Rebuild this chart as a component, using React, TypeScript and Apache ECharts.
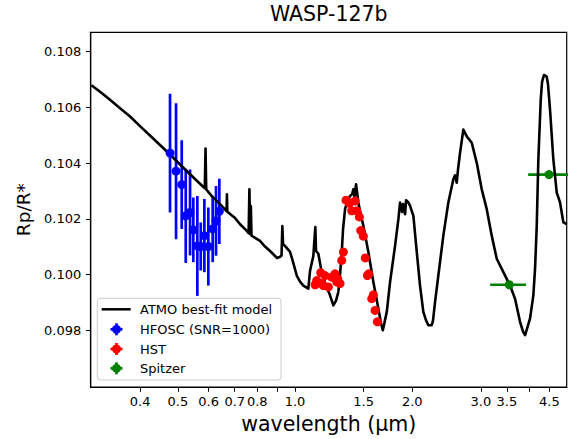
import React, { useEffect, useRef } from 'react';
import * as echarts from 'echarts';

// ATMO best-fit model (wavelength in micron, Rp/R*)
const modelWavelength = [
  0.300, 0.3157, 0.3348, 0.3553, 0.3770, 0.4023, 0.4242, 0.4500, 0.4775, 0.5066,
  0.5375, 0.5702, 0.5865, 0.5890, 0.5915, 0.6120, 0.6420, 0.6669, 0.6685, 0.6700,
  0.7015, 0.7226, 0.7485, 0.7600, 0.7635, 0.7670, 0.7700, 0.7730, 0.7896, 0.8129,
  0.8375, 0.8626, 0.8885, 0.8990, 0.9152, 0.9233, 0.9277, 0.9315, 0.9482, 0.9709,
  0.9882, 1.0101, 1.0300, 1.0503, 1.0818, 1.0928, 1.1142, 1.1275, 1.1323, 1.1478,
  1.1662, 1.1942, 1.2152, 1.2300, 1.2542, 1.2744, 1.2918, 1.3050, 1.3182, 1.3284,
  1.3442, 1.3602, 1.3845, 1.4010, 1.4118, 1.4219, 1.4345, 1.4542, 1.4689, 1.4979,
  1.5428, 1.5891, 1.6369, 1.6633, 1.6801, 1.6931, 1.7203, 1.7542, 1.8069, 1.8425,
  1.8611, 1.8832, 1.8944, 1.9169, 1.9283, 1.9547, 1.9744, 2.0134, 2.0543, 2.0941,
  2.1354, 2.1698, 2.1995, 2.2442, 2.2615, 2.2884, 2.3335, 2.4035, 2.4757, 2.5500,
  2.5758, 2.6018, 2.6219, 2.6531, 2.7054, 2.7603, 2.8431, 2.9285, 3.0163, 3.1068,
  3.2000, 3.2961, 3.4274, 3.5659, 3.6728, 3.7831, 3.8509, 3.8967, 3.9430, 4.0136,
  4.0927, 4.1340, 4.1758, 4.2155, 4.2758, 4.3088, 4.3600, 4.4302, 4.4644, 4.5174,
  4.6065, 4.6999, 4.7925, 4.8870, 4.9862,
];
const modelRadius = [
  0.10679, 0.10656, 0.10627, 0.10597, 0.10567, 0.10529, 0.10499, 0.10465, 0.10431, 0.10395,
  0.10360, 0.10326, 0.10310, 0.10452, 0.10306, 0.10281, 0.10253, 0.10228, 0.10288, 0.10226,
  0.10203, 0.10181, 0.10160, 0.10149, 0.10306, 0.10146, 0.10246, 0.10140, 0.10132, 0.10121,
  0.10101, 0.10085, 0.10067, 0.10060, 0.10064, 0.10069, 0.10174, 0.10110, 0.10099, 0.10082,
  0.10046, 0.09997, 0.09975, 0.09961, 0.09950, 0.10014, 0.10067, 0.10171, 0.10085, 0.10075,
  0.10021, 0.09971, 0.09943, 0.09926, 0.09890, 0.09907, 0.09938, 0.10000, 0.10081, 0.10164,
  0.10235, 0.10260, 0.10282, 0.10288, 0.10306, 0.10278, 0.10324, 0.10259, 0.10228, 0.10175,
  0.10081, 0.09974, 0.09878, 0.09825, 0.09801, 0.09821, 0.09867, 0.09974, 0.10104, 0.10199,
  0.10259, 0.10225, 0.10253, 0.10217, 0.10267, 0.10259, 0.10247, 0.10211, 0.10081, 0.09961,
  0.09867, 0.09836, 0.09819, 0.09819, 0.09836, 0.09902, 0.09997, 0.10140, 0.10259, 0.10342,
  0.10356, 0.10330, 0.10378, 0.10437, 0.10520, 0.10496, 0.10473, 0.10401, 0.10306, 0.10235,
  0.10140, 0.10057, 0.10009, 0.09961, 0.09914, 0.09831, 0.09796, 0.09783, 0.09807, 0.09843,
  0.09926, 0.10021, 0.10175, 0.10413, 0.10627, 0.10691, 0.10716, 0.10710, 0.10681, 0.10591,
  0.10413, 0.10294, 0.10259, 0.10188, 0.10181,
];

// HFOSC simulated points
const hfoscWavelength = [0.4775, 0.4948, 0.5117, 0.5240, 0.5375, 0.5480, 0.5612, 0.5726, 0.5850, 0.5989, 0.6145, 0.6267, 0.6391];
const hfoscRadius = [0.10436, 0.10371, 0.10323, 0.10211, 0.10223, 0.10161, 0.10103, 0.10101, 0.10140, 0.10101, 0.10164, 0.10193, 0.10227];
const hfoscError = [0.00213, 0.00244, 0.00159, 0.00169, 0.00154, 0.00116, 0.00179, 0.00086, 0.00131, 0.00140, 0.00119, 0.00125, 0.00117];

// HST points
const hstWavelength = [
  1.126, 1.137, 1.164, 1.172, 1.182, 1.194, 1.218, 1.242, 1.267, 1.280, 1.287, 1.305, 1.318, 1.331,
  1.352, 1.379, 1.398, 1.426, 1.440, 1.463, 1.475, 1.498, 1.515, 1.534, 1.546, 1.574, 1.589, 1.605, 1.627,
];
const hstRadius = [
  0.09964, 0.09979, 0.10007, 0.09968, 0.09961, 0.09997, 0.09956, 0.09991, 0.10003, 0.09974, 0.09985, 0.09968, 0.10051, 0.10081,
  0.10267, 0.10256, 0.10229, 0.10264, 0.10229, 0.10207, 0.10158, 0.10138, 0.10060, 0.09997, 0.10003, 0.09914, 0.09928, 0.09872, 0.09831,
];

// Spitzer points with band widths
const spitzerWavelength = [3.55, 4.49];
const spitzerRadius = [0.09964, 0.10359];
const spitzerLow = [3.17, 3.97];
const spitzerHigh = [3.92, 5.10];

// Axes
const xMin = 0.2987;
const xMax = 4.985;
const yMin = 0.09597;
const yMax = 0.10869;
const xTickLabels = [0.4, 0.5, 0.6, 0.7, 0.8, 1.0, 1.5, 2.0, 3.0, 3.5, 4.5];
const xTickMarks = [0.4, 0.5, 0.6, 0.7, 0.8, 0.9, 1.0, 1.5, 2.0, 3.0, 3.5, 4.0, 4.5];
const yTicks = [0.098, 0.100, 0.102, 0.104, 0.106, 0.108];

const legendLabels = ['ATMO best-fit model', 'HFOSC (SNR=1000)', 'HST', 'Spitzer'];
const legendColors = ['#000000', '#0000ff', '#ff0000', '#008000'];

const FONT = 'DejaVu Sans';

export default function App() {
  const ref = useRef<HTMLDivElement>(null);

  useEffect(() => {
    if (!ref.current) return;
    const chart = echarts.init(ref.current, undefined, { renderer: 'svg' });

    const modelData = modelWavelength.map((w, i) => [w, modelRadius[i]]);
    const hfoscData = hfoscWavelength.map((w, i) => [w, hfoscRadius[i]]);
    const hfoscErrData = hfoscWavelength.map((w, i) => [w, hfoscRadius[i], hfoscError[i]]);
    const hstData = hstWavelength.map((w, i) => [w, hstRadius[i]]);
    const spitzerData = spitzerWavelength.map((w, i) => [w, spitzerRadius[i]]);
    const spitzerErrData = spitzerWavelength.map((w, i) => [w, spitzerRadius[i], spitzerLow[i], spitzerHigh[i]]);

    const fmtX = (v: number) => v.toFixed(1);

    // legend geometry
    const lx = 97.3, ly = 298.3, lw = 183.7, lh = 81.7;
    const rowY = [309.3, 329.3, 349, 368.3];
    const legendChildren: any[] = [
      {
        type: 'rect',
        shape: { x: lx, y: ly, width: lw, height: lh, r: 3 },
        style: { fill: 'rgba(255,255,255,0.8)', stroke: '#cccccc', lineWidth: 1 },
      },
      {
        type: 'line',
        shape: { x1: 101.7, y1: rowY[0], x2: 130.7, y2: rowY[0] },
        style: { stroke: legendColors[0], lineWidth: 2.5 },
      },
    ];
    for (let k = 1; k < 4; k++) {
      const cy = rowY[k];
      const cx = 116.5;
      legendChildren.push(
        { type: 'line', shape: { x1: cx, y1: cy - 6, x2: cx, y2: cy + 6 }, style: { stroke: legendColors[k], lineWidth: 2.7 } },
        { type: 'line', shape: { x1: cx - 6, y1: cy, x2: cx + 6, y2: cy }, style: { stroke: legendColors[k], lineWidth: 2.7 } },
        { type: 'circle', shape: { cx, cy, r: 4.5 }, style: { fill: legendColors[k] } },
      );
    }
    legendLabels.forEach((t, k) => {
      legendChildren.push({
        type: 'text',
        x: 140,
        y: rowY[k],
        style: { text: t, fill: '#000', font: `13px "${FONT}"`, textVerticalAlign: 'middle', verticalAlign: 'middle' },
      });
    });

    const option: any = {
      animation: false,
      backgroundColor: '#ffffff',
      textStyle: { fontFamily: FONT },
      title: {
        text: 'WASP-127b',
        left: 328.7,
        top: 3,
        padding: 0,
        textAlign: 'center',
        textStyle: { fontFamily: FONT, fontSize: 20.5, fontWeight: 'normal', color: '#000' },
      },
      grid: {
        left: 90.7,
        right: 5.3,
        top: 32.3,
        bottom: 50,
        containLabel: false,
        show: true,
        borderColor: '#000',
        borderWidth: 1.2,
        backgroundColor: 'transparent',
      },
      xAxis: {
        type: 'log',
        logBase: 10,
        min: xMin,
        max: xMax,
        name: 'wavelength (μm)',
        nameLocation: 'middle',
        nameGap: 20,
        nameTextStyle: { fontFamily: FONT, fontSize: 20.5, color: '#000' },
        axisLine: { show: true, onZero: false, lineStyle: { color: '#000', width: 1.2 } },
        axisTick: { show: true, inside: false, length: 4.7, customValues: xTickMarks, lineStyle: { color: '#000', width: 1 } },
        axisLabel: {
          show: true,
          margin: 8,
          customValues: xTickLabels,
          formatter: (v: number) => fmtX(v),
          fontFamily: FONT,
          fontSize: 13,
          color: '#000',
        },
        splitLine: { show: false },
        minorTick: { show: false },
        minorSplitLine: { show: false },
      },
      yAxis: {
        type: 'value',
        min: yMin,
        max: yMax,
        name: 'Rp/R*',
        nameLocation: 'middle',
        nameRotate: 90,
        nameGap: 53,
        nameTextStyle: { fontFamily: FONT, fontSize: 18.5, color: '#000' },
        axisLine: { show: true, onZero: false, lineStyle: { color: '#000', width: 1.2 } },
        axisTick: { show: true, inside: false, length: 4.7, customValues: yTicks, lineStyle: { color: '#000', width: 1 } },
        axisLabel: {
          show: true,
          margin: 9.5,
          customValues: yTicks,
          formatter: (v: number) => v.toFixed(3),
          fontFamily: FONT,
          fontSize: 13,
          color: '#000',
        },
        splitLine: { show: false },
      },
      series: [
        {
          name: 'HFOSC error',
          type: 'custom',
          clip: true,
          z: 1,
          data: hfoscErrData,
          renderItem: (params: any, api: any) => {
            const x = api.value(0);
            const y = api.value(1);
            const e = api.value(2);
            const p1 = api.coord([x, y - e]);
            const p2 = api.coord([x, y + e]);
            return {
              type: 'line',
              shape: { x1: p1[0], y1: p1[1], x2: p2[0], y2: p2[1] },
              style: { stroke: '#0000ff', lineWidth: 2.7 },
            };
          },
        },
        {
          name: 'Spitzer error',
          type: 'custom',
          clip: true,
          z: 1,
          data: spitzerErrData,
          renderItem: (params: any, api: any) => {
            const y = api.value(1);
            const p1 = api.coord([api.value(2), y]);
            const p2 = api.coord([api.value(3), y]);
            return {
              type: 'line',
              shape: { x1: p1[0], y1: p1[1], x2: p2[0], y2: p2[1] },
              style: { stroke: '#008000', lineWidth: 2.7 },
            };
          },
        },
        {
          name: 'ATMO best-fit model',
          type: 'line',
          z: 2,
          data: modelData,
          symbol: 'none',
          showSymbol: false,
          clip: true,
          lineStyle: { color: '#000', width: 2.6, join: 'round' },
          itemStyle: { color: '#000' },
        },
        {
          name: 'HFOSC (SNR=1000)',
          type: 'scatter',
          z: 3,
          data: hfoscData,
          symbolSize: 9,
          itemStyle: { color: '#0000ff', opacity: 1 },
        },
        {
          name: 'HST',
          type: 'scatter',
          z: 3,
          data: hstData,
          symbolSize: 9,
          itemStyle: { color: '#ff0000', opacity: 1 },
        },
        {
          name: 'Spitzer',
          type: 'scatter',
          z: 3,
          data: spitzerData,
          symbolSize: 9,
          itemStyle: { color: '#008000', opacity: 1 },
        },
      ],
      graphic: [
        {
          type: 'group',
          z: 100,
          children: legendChildren,
        },
      ],
    };

    chart.setOption(option);
    return () => chart.dispose();
  }, []);

  return (
    <div
      ref={ref}
      style={{ position: 'fixed', left: 0, top: 0, width: 572, height: 439, background: '#fff' }}
    />
  );
}
